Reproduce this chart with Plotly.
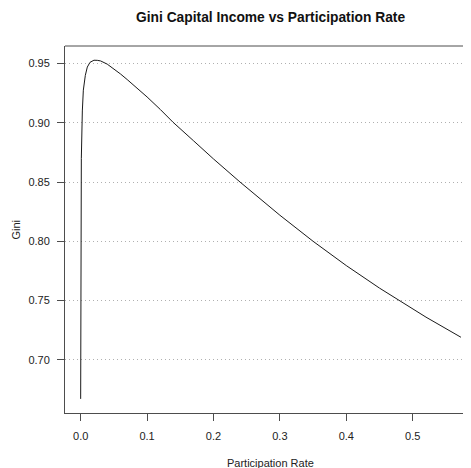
import plotly.graph_objects as go

participation = [0.0, 0.0002, 0.0005, 0.001, 0.0025, 0.004, 0.007, 0.010, 0.014, 0.020,
                 0.025, 0.030, 0.040, 0.050, 0.060, 0.070, 0.080, 0.090, 0.100, 0.120,
                 0.139, 0.170, 0.200, 0.240, 0.300, 0.350, 0.400, 0.450, 0.481, 0.520, 0.5727]
gini = [0.667, 0.780, 0.843, 0.870, 0.910, 0.9275, 0.940, 0.947, 0.951, 0.9528,
        0.9527, 0.9522, 0.9495, 0.9455, 0.9412, 0.9365, 0.9317, 0.9268, 0.9218, 0.9112,
        0.9005, 0.8848, 0.8695, 0.850, 0.822, 0.800, 0.7795, 0.7605, 0.7495, 0.736, 0.719]

x_ticks = [0.0, 0.1, 0.2, 0.3, 0.4, 0.5]
x_tick_labels = ["0.0", "0.1", "0.2", "0.3", "0.4", "0.5"]
y_ticks = [0.70, 0.75, 0.80, 0.85, 0.90, 0.95]
y_tick_labels = ["0.70", "0.75", "0.80", "0.85", "0.90", "0.95"]

font_family = "Liberation Sans, Arial, sans-serif"

fig = go.Figure()
fig.add_trace(go.Scatter(x=participation, y=gini, mode="lines",
                         line=dict(color="#1a1a1a", width=1), showlegend=False))

fig.update_layout(
    width=463, height=460,
    margin=dict(l=57, r=0, t=38, b=55),
    paper_bgcolor="white", plot_bgcolor="white",
    font=dict(family=font_family, size=11, color="#222222"),
    xaxis=dict(range=[-0.0236, 0.5878], tickvals=x_ticks, ticktext=x_tick_labels,
               showgrid=False, zeroline=False, showline=True, linecolor="#4d4d4d",
               linewidth=1, ticks="outside", ticklen=7, tickcolor="#4d4d4d",
               tickwidth=1, ticklabelstandoff=6),
    yaxis=dict(range=[0.6551, 0.9648], tickvals=y_ticks, ticktext=y_tick_labels,
               showgrid=True, gridcolor="#b0b0b0", griddash="1px,3px", gridwidth=1,
               zeroline=False, showline=True, linecolor="#4d4d4d", linewidth=1,
               ticks="outside", ticklen=7, tickcolor="#4d4d4d", tickwidth=1,
               ticklabelstandoff=5),
    shapes=[dict(type="line", xref="paper", yref="paper", x0=0, x1=1, y0=1, y1=1,
                 line=dict(color="#4d4d4d", width=1))],
    annotations=[
        dict(text="<b>Gini Capital Income vs Participation Rate</b>", xref="paper",
             yref="paper", x=0.506, y=1, yshift=29, showarrow=False,
             font=dict(size=13.8, color="#111111"), xanchor="center", yanchor="middle"),
        dict(text="Participation Rate", xref="paper", yref="paper", x=0.506, y=0,
             yshift=-50, showarrow=False, font=dict(size=11), xanchor="center",
             yanchor="middle"),
        dict(text="Gini", xref="paper", yref="paper", x=0, y=0.5, xshift=-50,
             showarrow=False, textangle=-90, font=dict(size=11), xanchor="center",
             yanchor="middle"),
    ],
)

fig.write_html("out.html")
